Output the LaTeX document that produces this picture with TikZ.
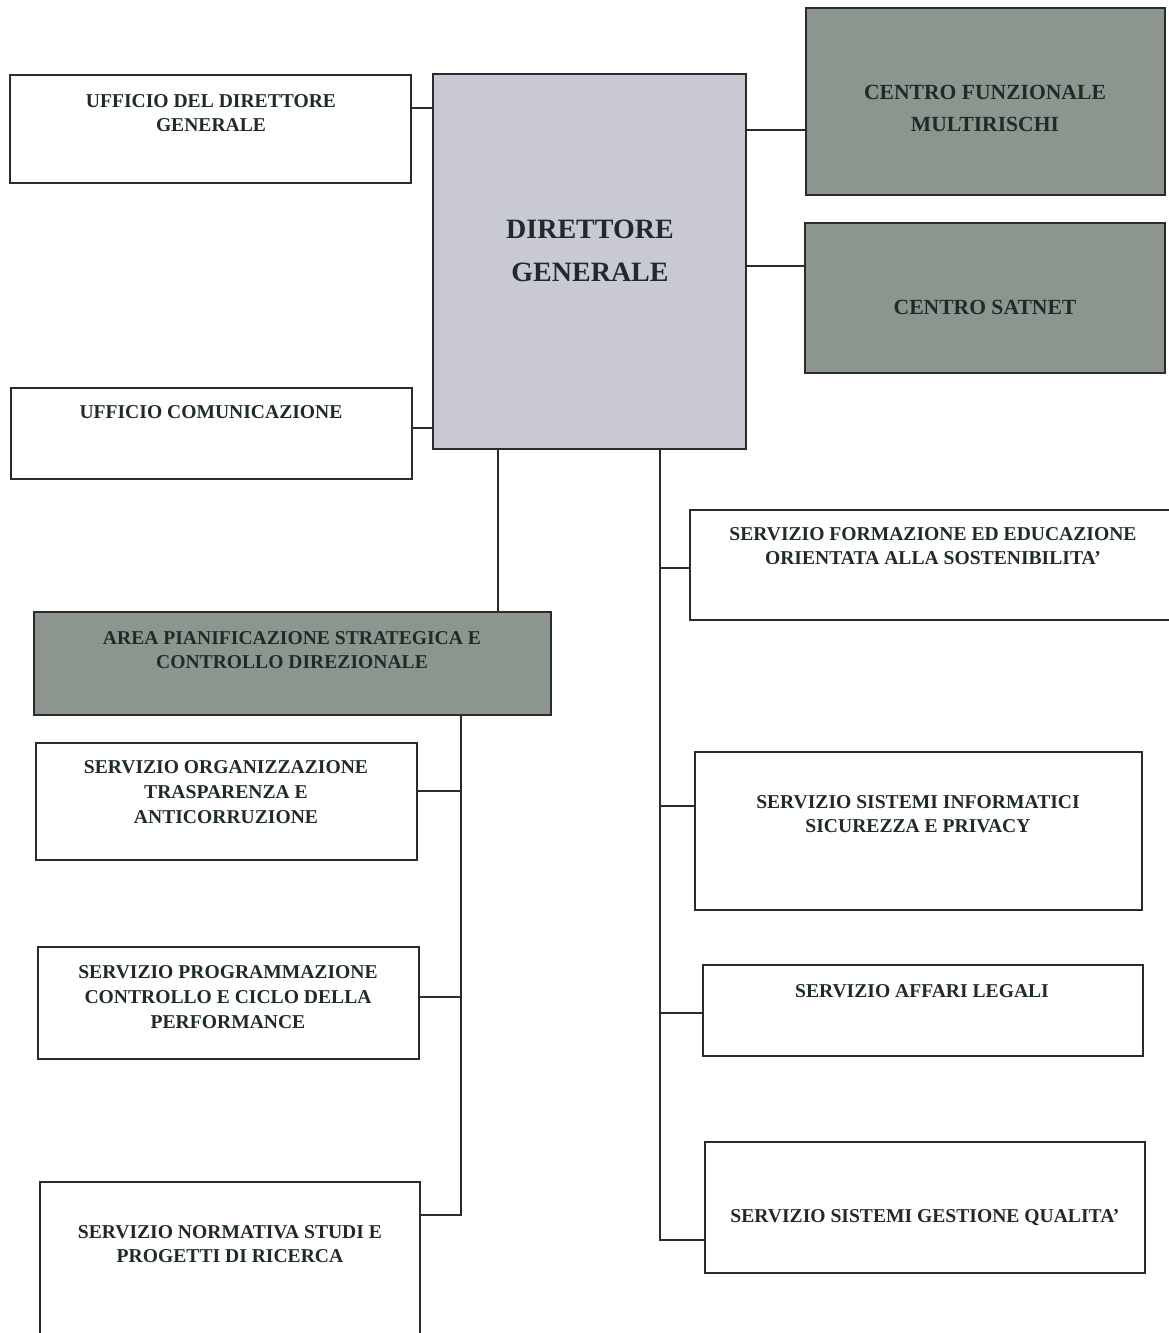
\documentclass[tikz,border=0pt]{standalone}
\usepackage{fontspec}
\setmainfont{Liberation Serif}
\usetikzlibrary{positioning,fit,calc}
\definecolor{linecol}{HTML}{2A2C2C}
\definecolor{txtcol}{HTML}{1F2B2A}
\definecolor{dgfill}{HTML}{C9C9D3}
\definecolor{darkfill}{HTML}{8D958F}
\tikzset{
  box/.style={draw=linecol, line width=0.8pt, fill=white, inner sep=0pt},
  dgbox/.style={box, fill=dgfill},
  darkbox/.style={box, fill=darkfill},
  txt/.style={align=center, text=txtcol, inner sep=0pt, font=\fontsize{9.8}{12.3}\selectfont\bfseries},
  link/.style={draw=linecol, line width=0.6pt}
}

\begin{document}
\begin{tikzpicture}[x=0.5pt, y=-0.5pt]
      \useasboundingbox (0,0) rectangle (1168,1333);

      % top block
      \node[dgbox, fit={(433,74) (746,449)}] (dg) {};
      \node[txt, font=\fontsize{14}{21.5}\selectfont\bfseries] (dg-t) at (590,251) {DIRETTORE\\GENERALE};
      \node[box, fit={(10,75) (411,183)}] (udg) {};
      \node[txt] (udg-t) at (211,113) {UFFICIO DEL DIRETTORE\\GENERALE};
      \node[box, fit={(11,388) (412,479)}] (uc) {};
      \node[txt] (uc-t) at (211,412) {UFFICIO COMUNICAZIONE};
      \node[darkbox, fit={(806,8) (1165,195)}] (cfm) {};
      \node[txt, font=\fontsize{10.8}{16}\selectfont\bfseries] (cfm-t) at (985,108) {CENTRO FUNZIONALE\\MULTIRISCHI};
      \node[darkbox, fit={(805,223) (1165,373)}] (cs) {};
      \node[txt, font=\fontsize{10.8}{16}\selectfont\bfseries] (cs-t) at (985,307) {CENTRO SATNET};

      % left branch
      \node[darkbox, fit={(34,612) (551,715)}] (apscd) {};
      \node[txt] (apscd-t) at (292,650) {AREA PIANIFICAZIONE STRATEGICA E\\CONTROLLO DIREZIONALE};
      \node[box, fit={(36,743) (417,860)}] (sota) {};
      \node[txt] (sota-t) at (226,792) {SERVIZIO ORGANIZZAZIONE\\TRASPARENZA E\\ANTICORRUZIONE};
      \node[box, fit={(38,947) (419,1059)}] (spccp) {};
      \node[txt] (spccp-t) at (228,997) {SERVIZIO PROGRAMMAZIONE\\CONTROLLO E CICLO DELLA\\PERFORMANCE};
      \node[box, fit={(40,1182) (420,1345)}] (nspr) {};
      \node[txt] (nspr-t) at (230,1244) {SERVIZIO NORMATIVA STUDI E\\PROGETTI DI RICERCA};

      % right branch
      \node[box, fit={(690,510) (1172,620)}] (sfeos) {};
      \node[txt] (sfeos-t) at (933,546) {SERVIZIO FORMAZIONE ED EDUCAZIONE\\ORIENTATA ALLA SOSTENIBILITA'};
      \node[box, fit={(695,752) (1142,910)}] (ssisp) {};
      \node[txt] (ssisp-t) at (918,814) {SERVIZIO SISTEMI INFORMATICI\\SICUREZZA E PRIVACY};
      \node[box, fit={(703,965) (1143,1056)}] (sal) {};
      \node[txt] (sal-t) at (922,991) {SERVIZIO AFFARI LEGALI};
      \node[box, fit={(705,1142) (1145,1273)}] (ssgq) {};
      \node[txt] (ssgq-t) at (925,1218) {SERVIZIO SISTEMI GESTIONE QUALITA'};

      \coordinate (lbus) at (461,715);
      \coordinate (rbus) at (660,449);

      \path[link] (udg.east |- 0,108) edge (dg.west |- 0,108)
                  (uc.east |- 0,428) edge (dg.west |- 0,428)
                  (dg.east |- 0,130) edge (cfm.west |- 0,130)
                  (dg.east |- 0,266) edge (cs.west |- 0,266)
                  (dg.south -| 498,0) edge (apscd.north -| 498,0);

      \draw[link] (apscd.south -| lbus) |- (nspr.east |- 0,1215);
      \path[link] (sota.east |- 0,791) edge (lbus |- 0,791)
                  (spccp.east |- 0,997) edge (lbus |- 0,997);

      \draw[link] (dg.south -| rbus) |- (ssgq.west |- 0,1240);
      \path[link] (rbus |- 0,568) edge (sfeos.west |- 0,568)
                  (rbus |- 0,806) edge (ssisp.west |- 0,806)
                  (rbus |- 0,1013) edge (sal.west |- 0,1013);
\end{tikzpicture}
\end{document}
